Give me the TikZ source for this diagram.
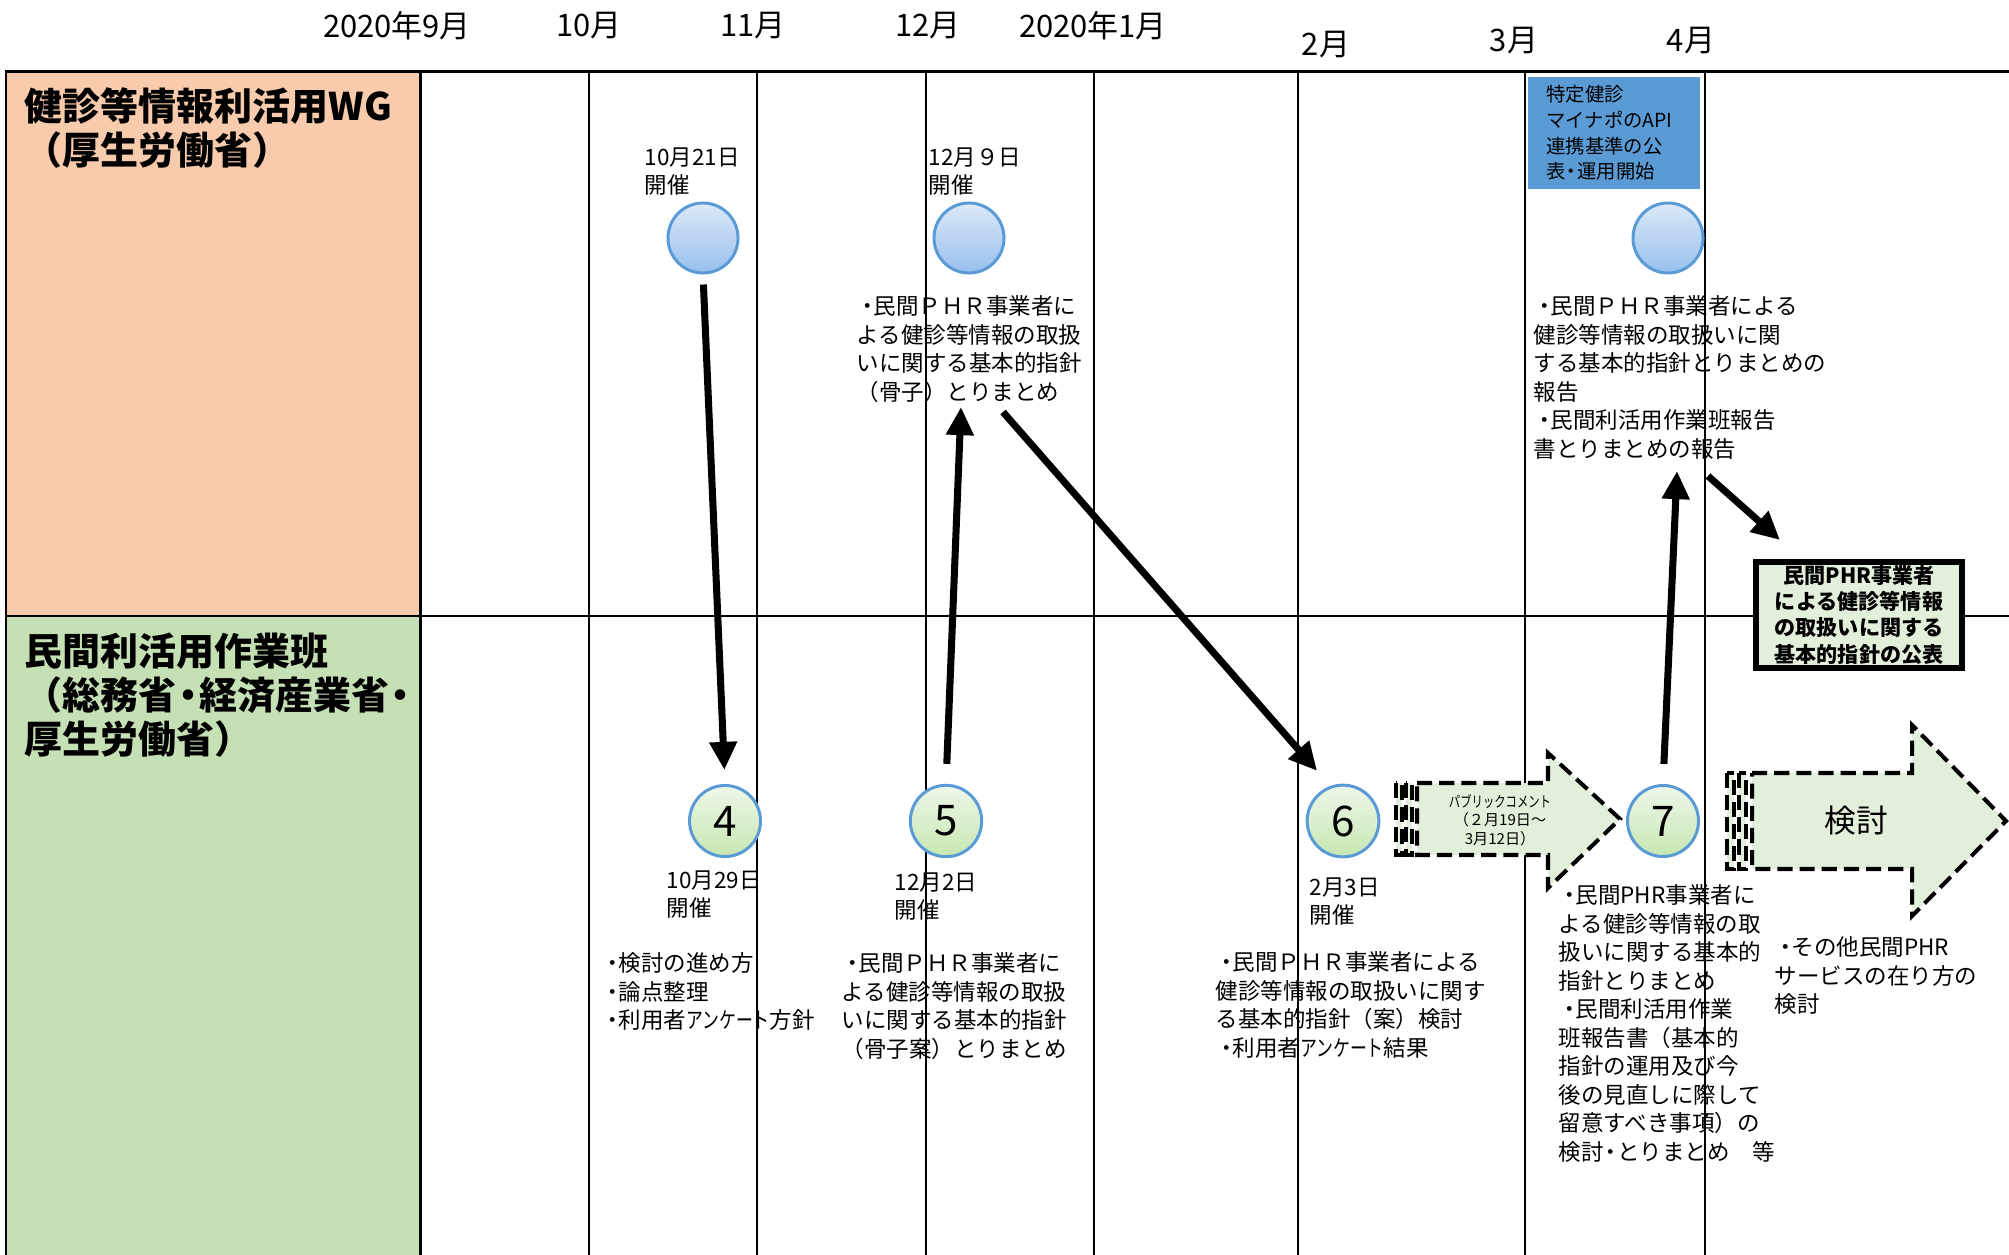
\documentclass[tikz,border=0pt]{standalone}
\usepackage{fontspec}
\setmainfont{Noto Sans CJK JP}
\usetikzlibrary{arrows.meta}
\definecolor{wgpeach}{HTML}{F8CBAD}
\definecolor{sgreen}{HTML}{C5E0B4}
\definecolor{pblue}{HTML}{5B9BD5}
\definecolor{pale}{HTML}{E2EFDA}
\definecolor{cbtop}{HTML}{DCE9F8}
\definecolor{cbbot}{HTML}{97BFEE}
\definecolor{cgtop}{HTML}{EEF7E9}
\definecolor{cgbot}{HTML}{C6E7B2}
\newcommand\nkg{\hspace{-0.2em}・\hspace{-0.2em}}
\newcommand\bul{・\hspace{-0.25em}}
\newcommand\kana[1]{\scalebox{0.75}[1]{#1}}
\tikzset{
  monthline/.style={line width=0.6pt},
  month/.style={inner sep=0pt, font=\fontsize{8.8}{10}\selectfont},
  title/.style={anchor=north west, inner sep=0pt, align=left, font=\bfseries\fontsize{10.8}{12.5}\selectfont},
  memo/.style={anchor=north west, inner sep=0pt, align=left, font=\fontsize{6.4}{8.1}\selectfont},
  wgmeet/.style={circle, minimum size=0.7cm, draw=pblue, line width=0.85pt, top color=cbtop, bottom color=cbbot},
  sgmeet/.style={circle, minimum size=0.7cm, draw=pblue, line width=0.85pt, top color=cgtop, bottom color=cgbot, font=\fontsize{12}{12}\selectfont},
  specbox/.style={fill=pblue, inner sep=0pt, minimum width=1.71cm, minimum height=1.11cm, text width=1.35cm, align=left, font=\fontsize{5.5}{7.3}\selectfont},
  pubbox/.style={draw, line width=1.7pt, fill=pale, inner sep=0pt, minimum width=2.06cm, minimum height=1.06cm, align=center, font=\bfseries\fontsize{6}{7.4}\selectfont},
  dashbox/.style={draw, fill=pale, line width=1.15pt, dash pattern=on 4.3pt off 2pt},
  flow/.style={line width=2pt, -{Triangle[length=8pt,width=7.5pt]}},
}
\begin{document}
\begin{tikzpicture}[x=0.01cm, y=-0.01cm]
	%%%%% START %%%%%
	\useasboundingbox (0,0) rectangle (2009,1255);
	
	\fill[wgpeach] (6,72) rectangle (420,616);
	\fill[sgreen] (6,616) rectangle (420,1262);
	\draw[line width=0.85pt] (6,72) rectangle (420,1262);
	
	\draw[line width=0.85pt] (6,72) -- (2009,72);
	\draw[line width=0.7pt] (6,616) -- (2009,616);
	\draw[monthline] (589,72) -- (589,1262);
	\draw[monthline] (757,72) -- (757,1262);
	\draw[monthline] (926,72) -- (926,1262);
	\draw[monthline] (1094,72) -- (1094,1262);
	\draw[monthline] (1298,72) -- (1298,1262);
	\draw[monthline] (1525,72) -- (1525,1262);
	\draw[monthline] (1705,72) -- (1705,1262);
	
	\node[month] (m9) at (397,26) {2020年9月};
	\node[month] (m10) at (589,26) {10月};
	\node[month] (m11) at (753,26) {11月};
	\node[month] (m12) at (928,26) {12月};
	\node[month] (m1) at (1093,26) {2020年1月};
	\node[month] (m2) at (1326,45) {2月};
	\node[month] (m3) at (1514,41) {3月};
	\node[month] (m4) at (1691,41) {4月};
	
	\node[title] (wgname) at (24,87) {健診等情報利活用WG\\（厚生労働省）};
	\node[title] (sgname) at (24,632) {民間利活用作業班\\（総務省\nkg 経済産業省\nkg\\厚生労働省）};
	
	%%%%% WG %%%%%
	\node[wgmeet] (wg1) at (703,238) {};
	\node[wgmeet] (wg2) at (969,238) {};
	\node[wgmeet] (wg3) at (1668,238) {};
	\node[memo] (wg1day) at (644,147) {10月21日\\開催};
	\node[memo] (wg2day) at (928,147) {12月９日\\開催};
	\node[specbox] (spec) at (1614,133) {特定健診\\マイナポのAPI\\連携基準の公\\表\nkg 運用開始};
	\node[memo] (t1) at (856,295) {\bul 民間ＰＨＲ事業者に\\よる健診等情報の取扱\\いに関する基本的指針\\（骨子）とりまとめ};
	\node[memo] (t2) at (1533,295) {\bul 民間ＰＨＲ事業者による\\健診等情報の取扱いに関\\する基本的指針とりまとめの\\報告\\\bul 民間利活用作業班報告\\書とりまとめの報告};
	\node[pubbox] (pub) at (1859,615) {民間PHR事業者\\による健診等情報\\の取扱いに関する\\基本的指針の公表};
	
	%%%%% SG %%%%%
	\node[sgmeet] (sg4) at (725,821) {4};
	\node[sgmeet] (sg5) at (946,821) {5};
	\node[sgmeet] (sg6) at (1343,821) {6};
	\node[sgmeet] (sg7) at (1663,821) {7};
	\node[memo] (sg4day) at (666,870) {10月29日\\開催};
	\node[memo] (sg5day) at (894,872) {12月2日\\開催};
	\node[memo] (sg6day) at (1309,877) {2月3日\\開催};
	\node[memo] (b4) at (601,952) {\bul 検討の進め方\\\bul 論点整理\\\bul 利用者\kana{アンケート}方針};
	\node[memo] (b5) at (841,952) {\bul 民間ＰＨＲ事業者に\\よる健診等情報の取扱\\いに関する基本的指針\\（骨子案）とりまとめ};
	\node[memo] (b6) at (1215,951) {\bul 民間ＰＨＲ事業者による\\健診等情報の取扱いに関す\\る基本的指針（案）検討\\\bul 利用者\kana{アンケート}結果};
	\node[memo] (b7) at (1558,884) {\bul 民間PHR事業者に\\よる健診等情報の取\\扱いに関する基本的\\指針とりまとめ\\\bul 民間利活用作業\\班報告書（基本的\\指針の運用及び今\\後の見直しに際して\\留意すべき事項）の\\検討\nkg とりまとめ　等};
	\node[memo] (b8) at (1774,936) {\bul その他民間PHR\\サービスの在り方の\\検討};
	
	%%%%% dashed arrows %%%%%
	\draw[dashbox] (1396,783) rectangle (1402,855);
	\draw[dashbox] (1406,783) rectangle (1412,855);
	\draw[dashbox] (1417,783) -- (1548,783) -- (1548,753) -- (1620,819) -- (1548,888) -- (1548,855) -- (1417,855) -- cycle;
	\node[align=center, inner sep=0pt, font=\fontsize{4.3}{5.3}\selectfont] (pubcom) at (1500,820) {\kana{パブリックコメント}\\（２月19日～\\3月12日）};
	
	\draw[dashbox] (1727,773) rectangle (1734,869);
	\draw[dashbox] (1739,773) rectangle (1746,869);
	\draw[dashbox] (1752,773) -- (1912,773) -- (1912,725) -- (2006,821) -- (1912,916) -- (1912,869) -- (1752,869) -- cycle;
	\node[inner sep=0pt, font=\fontsize{9}{10}\selectfont] (study) at (1856,821) {検討};
	
	%%%%% solid arrows %%%%%
	\coordinate (t1tip) at (961,407);
	\coordinate (t1tail) at (1003,412);
	\coordinate (t2tip) at (1677,471);
	\coordinate (t2tail) at (1708,476);
	\coordinate (pubin) at (1780,540);
	
	\draw[flow, shorten <=0.1cm, shorten >=0.14cm] (wg1.south) -- (sg4.north);
	\draw[flow, shorten <=0.2cm] (sg5.north) -- (t1tip);
	\draw[flow, shorten >=0.2cm] (t1tail) -- (sg6.110);
	\draw[flow, shorten <=0.2cm] (sg7.north) -- (t2tip);
	\draw[flow] (t2tail) -- (pubin);
	
	%%%%% END %%%%%
\end{tikzpicture}
\end{document}
